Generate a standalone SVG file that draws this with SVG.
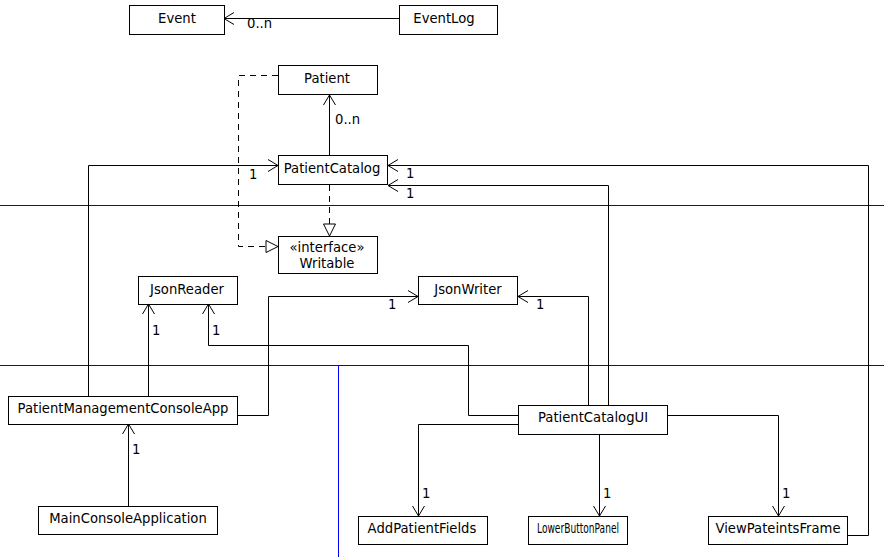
<svg xmlns="http://www.w3.org/2000/svg" width="884" height="557" viewBox="0 0 884 557">
  <style>
    text { font-family: "DejaVu Sans", "Liberation Sans", sans-serif; font-size: 13.2px; fill: #000; }
    .box { fill: #fff; stroke: #000; stroke-width: 1; }
    .name { text-anchor: middle; }
    .edge { fill: none; stroke: #000; stroke-width: 1; }
    .dash { stroke-dasharray: 6 5; }
    .sep { stroke: #0000ff; stroke-width: 1; fill: none; }
  </style>
  <defs>
    <marker id="open" markerUnits="userSpaceOnUse" markerWidth="14" markerHeight="16" viewBox="-12 -8 14 16" refX="0" refY="0" orient="auto">
      <path d="M-10,-6 L0,0 L-10,6" fill="none" stroke="#000" stroke-width="1"/>
    </marker>
    <marker id="hollow" markerUnits="userSpaceOnUse" markerWidth="16" markerHeight="16" viewBox="-14 -8 16 16" refX="0" refY="0" orient="auto">
      <path d="M-12,-6 L0,0 L-12,6 Z" fill="#fff" stroke="#000" stroke-width="1"/>
    </marker>
  </defs>

  <!-- layer separators -->
  <g id="separators">
    <line class="sep" x1="0" y1="205.5" x2="884" y2="205.5"/>
    <line class="sep" x1="0" y1="365.5" x2="884" y2="365.5"/>
    <line class="sep" x1="338.5" y1="365.5" x2="338.5" y2="557"/>
  </g>

  <g id="connectors">
    <path class="edge" d="M399,18.5 L224,18.5" marker-end="url(#open)"/>
    <text x="247" y="28">0..n</text>

    <path class="edge" d="M329.5,156 L329.5,95" marker-end="url(#open)"/>
    <text x="335" y="124">0..n</text>

    <path class="edge dash" d="M278,75.5 L238.5,75.5 L238.5,246.5 L278,246.5" marker-end="url(#hollow)"/>
    <path class="edge dash" d="M329.5,185 L329.5,236" marker-end="url(#hollow)"/>

    <path class="edge" d="M88.5,396 L88.5,165.5 L278,165.5" marker-end="url(#open)"/>
    <text x="249" y="179">1</text>

    <path class="edge" d="M848,535.5 L868.5,535.5 L868.5,165.5 L388,165.5" marker-end="url(#open)"/>
    <text x="406" y="178">1</text>

    <path class="edge" d="M608.5,405 L608.5,185.5 L388,185.5" marker-end="url(#open)"/>
    <text x="406" y="198">1</text>

    <path class="edge" d="M148.5,396 L148.5,304" marker-end="url(#open)"/>
    <text x="152" y="335">1</text>

    <path class="edge" d="M518,415.5 L468.5,415.5 L468.5,345.5 L208.5,345.5 L208.5,304" marker-end="url(#open)"/>
    <text x="212" y="335">1</text>

    <path class="edge" d="M237,415.5 L268.5,415.5 L268.5,296.5 L418,296.5" marker-end="url(#open)"/>
    <text x="388" y="309">1</text>

    <path class="edge" d="M588.5,405 L588.5,296.5 L518,296.5" marker-end="url(#open)"/>
    <text x="536" y="309">1</text>

    <path class="edge" d="M128.5,506 L128.5,424" marker-end="url(#open)"/>
    <text x="132" y="454">1</text>

    <path class="edge" d="M518,424.5 L418.5,424.5 L418.5,516" marker-end="url(#open)"/>
    <text x="422" y="498">1</text>

    <path class="edge" d="M599.5,434 L599.5,516" marker-end="url(#open)"/>
    <text x="603" y="498">1</text>

    <path class="edge" d="M667,415.5 L778.5,415.5 L778.5,516" marker-end="url(#open)"/>
    <text x="782" y="498">1</text>
  </g>

  <g id="Event">
    <rect class="box" x="129.5" y="5.5" width="95" height="29"/>
    <text class="name" x="177" y="23">Event</text>
  </g>
  <g id="EventLog">
    <rect class="box" x="399.5" y="5.5" width="98" height="29"/>
    <text class="name" x="444" y="23">EventLog</text>
  </g>
  <g id="Patient">
    <rect class="box" x="278.5" y="65.5" width="99" height="29"/>
    <text class="name" x="327" y="83">Patient</text>
  </g>
  <g id="PatientCatalog">
    <rect class="box" x="278.5" y="155.5" width="109" height="29"/>
    <text class="name" x="332" y="173">PatientCatalog</text>
  </g>
  <g id="Writable">
    <rect class="box" x="278.5" y="236.5" width="99" height="37"/>
    <text class="name" x="327" y="252">«interface»</text>
    <text class="name" x="327" y="268">Writable</text>
  </g>
  <g id="JsonReader">
    <rect class="box" x="138.5" y="276.5" width="99" height="28"/>
    <text class="name" x="187" y="294">JsonReader</text>
  </g>
  <g id="JsonWriter">
    <rect class="box" x="418.5" y="276.5" width="99" height="28"/>
    <text class="name" x="468" y="294">JsonWriter</text>
  </g>
  <g id="PatientManagementConsoleApp">
    <rect class="box" x="8.5" y="396.5" width="229" height="28"/>
    <text class="name" x="123" y="413">PatientManagementConsoleApp</text>
  </g>
  <g id="PatientCatalogUI">
    <rect class="box" x="518.5" y="405.5" width="149" height="29"/>
    <text class="name" x="593" y="422">PatientCatalogUI</text>
  </g>
  <g id="MainConsoleApplication">
    <rect class="box" x="38.5" y="506.5" width="179" height="28"/>
    <text class="name" x="128" y="523">MainConsoleApplication</text>
  </g>
  <g id="AddPatientFields">
    <rect class="box" x="358.5" y="516.5" width="129" height="28"/>
    <text class="name" x="422" y="533">AddPatientFields</text>
  </g>
  <g id="LowerButtonPanel">
    <rect class="box" x="528.5" y="516.5" width="99" height="28"/>
    <text class="name" x="578" y="533" textLength="82" lengthAdjust="spacingAndGlyphs">LowerButtonPanel</text>
  </g>
  <g id="ViewPateintsFrame">
    <rect class="box" x="708.5" y="516.5" width="139" height="28"/>
    <text class="name" x="778" y="533">ViewPateintsFrame</text>
  </g>
</svg>
